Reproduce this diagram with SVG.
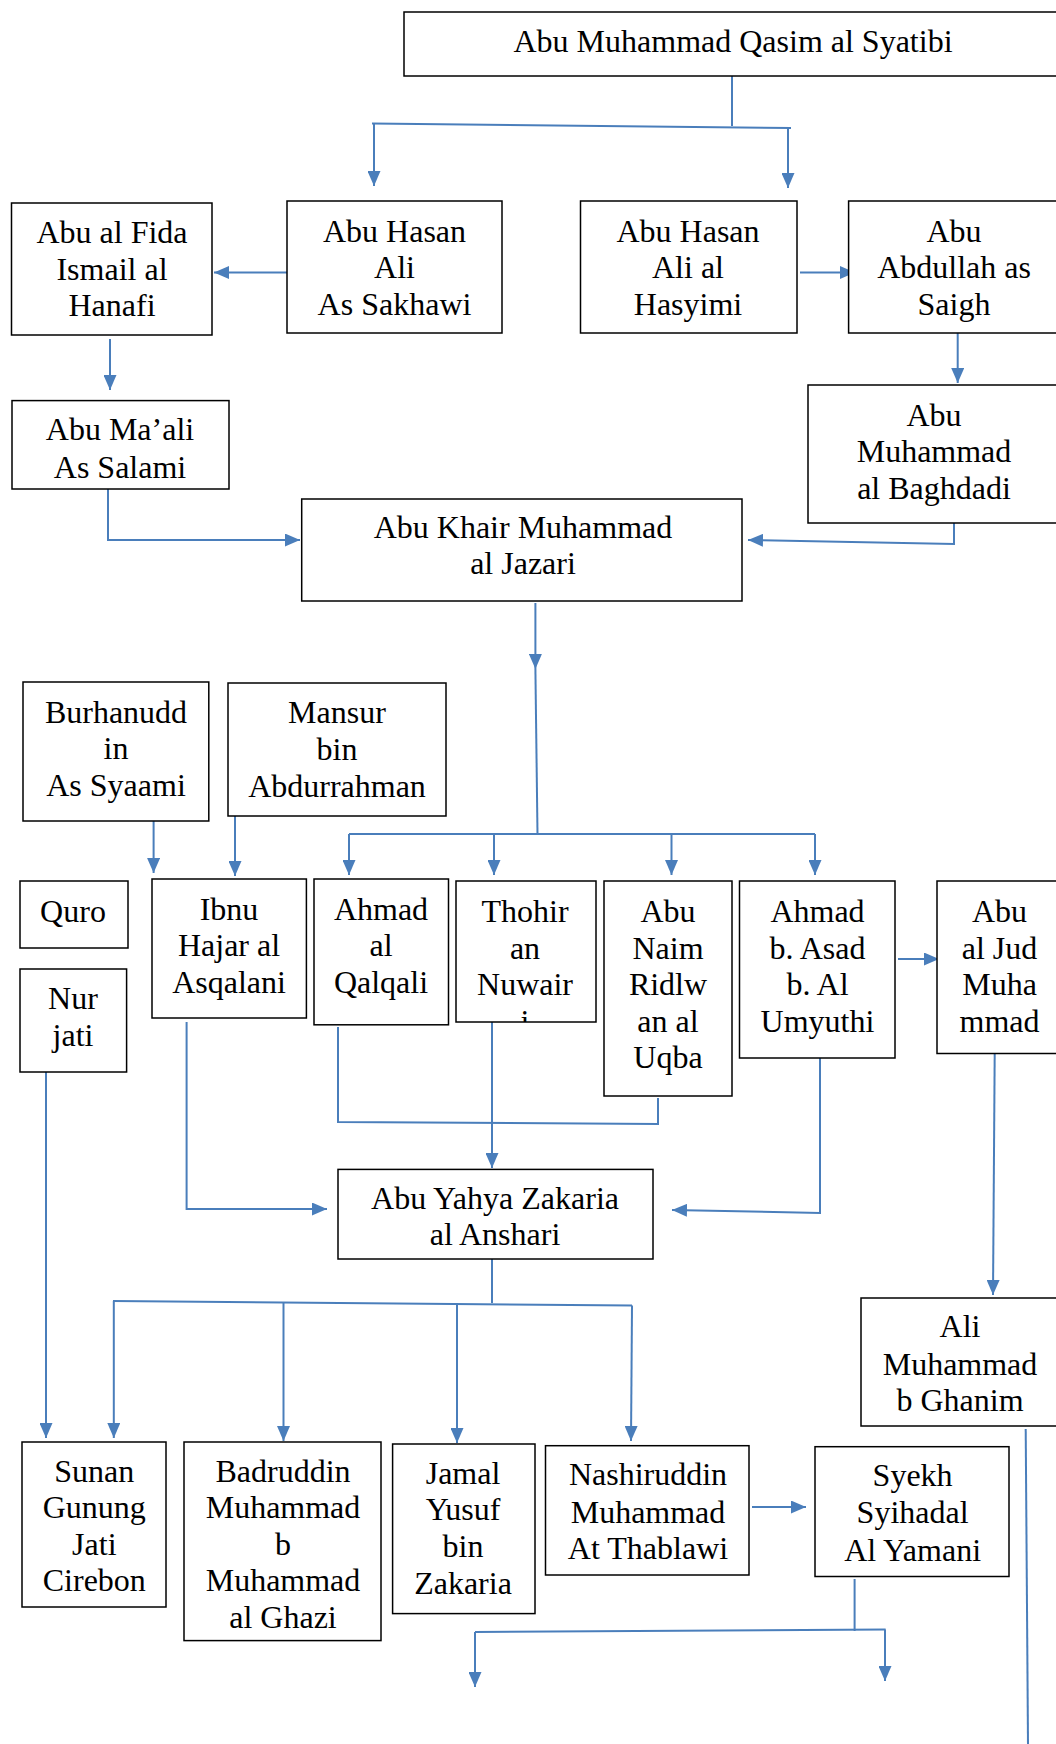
<svg xmlns="http://www.w3.org/2000/svg" width="1056" height="1744" viewBox="0 0 1056 1744">
<style>
.box{fill:#fff;stroke:#000;stroke-width:1.5}
.t{font-family:"Liberation Serif","Times New Roman",serif;font-size:32px;fill:#000;text-anchor:middle}
.c{fill:none;stroke:#4A7EBB;stroke-width:2}
.a{marker-end:url(#arr)}
</style>
<defs>
<marker id="arr" markerUnits="userSpaceOnUse" markerWidth="15" markerHeight="13" refX="15" refY="6.5" orient="auto">
<path d="M0,0 L15,6.5 L0,13 z" fill="#4A7EBB"/>
</marker>
<clipPath id="clipThohir"><rect x="456" y="881" width="140" height="141"/></clipPath>
</defs>
<rect width="1056" height="1744" fill="#fff"/>

<g id="connectors">
<path class="c" d="M732,76 V126"/>
<path class="c" d="M372,123.6 L791,128"/>
<path class="c a" d="M374,124 V186"/>
<path class="c a" d="M788,128 V188"/>
<path class="c a" d="M287,272.5 H214"/>
<path class="c a" d="M800,272.5 H855"/>
<path class="c a" d="M110,339 V390"/>
<path class="c a" d="M957.7,332 V383"/>
<path class="c a" d="M108,489 V540 H300"/>
<path class="c a" d="M954,523 V544 L748,540"/>
<path class="c a" d="M535.4,603 V669"/>
<path class="c" d="M535.4,669 L537.5,834"/>
<path class="c" d="M349,834 H815"/>
<path class="c a" d="M349,834 V875"/>
<path class="c a" d="M494,834 V875"/>
<path class="c a" d="M671.5,834 V875"/>
<path class="c a" d="M815,834 V875"/>
<path class="c a" d="M153.6,821 V873"/>
<path class="c a" d="M235,816 V876"/>
<path class="c a" d="M898,959 H939"/>
<path class="c" d="M338,1027 V1122 L658,1124 V1098"/>
<path class="c a" d="M492,1022 V1168"/>
<path class="c a" d="M186.6,1022 V1209 H327"/>
<path class="c a" d="M820,1058 V1213 L672,1210"/>
<path class="c a" d="M994.7,1053 L993,1295"/>
<path class="c a" d="M46,1072 V1438"/>
<path class="c" d="M492,1259 V1303"/>
<path class="c" d="M113,1301 L632,1305.5"/>
<path class="c a" d="M113.8,1301 V1438"/>
<path class="c a" d="M283.5,1302 V1441"/>
<path class="c a" d="M457,1303 V1443"/>
<path class="c a" d="M632,1305.5 L631,1441"/>
<path class="c a" d="M752,1507 H806"/>
<path class="c" d="M1025.7,1429 L1028,1744"/>
<path class="c" d="M854.6,1579 V1631"/>
<path class="c" d="M475,1632 L885.6,1629.5"/>
<path class="c a" d="M475,1632 V1687"/>
<path class="c a" d="M885,1629.5 V1681"/>
</g>

<g id="n-syatibi"><rect class="box" x="404" y="12" width="660" height="64"/><text class="t" x="733" y="52">Abu Muhammad Qasim al Syatibi</text></g>

<g id="n-fida"><rect class="box" x="11.5" y="203" width="200.5" height="132"/>
<text class="t" x="112" y="243">Abu al Fida</text><text class="t" x="112" y="279.5">Ismail al</text><text class="t" x="112" y="316">Hanafi</text></g>

<g id="n-sakhawi"><rect class="box" x="287" y="201" width="215" height="132"/>
<text class="t" x="394.5" y="241.5">Abu Hasan</text><text class="t" x="394.5" y="278">Ali</text><text class="t" x="394.5" y="314.5">As Sakhawi</text></g>

<g id="n-hasyimi"><rect class="box" x="580.5" y="201" width="216.5" height="132"/>
<text class="t" x="688" y="241.5">Abu Hasan</text><text class="t" x="688" y="278">Ali al</text><text class="t" x="688" y="314.5">Hasyimi</text></g>

<g id="n-saigh"><rect class="box" x="848.6" y="201" width="212" height="132"/>
<text class="t" x="954" y="241.5">Abu</text><text class="t" x="954" y="278">Abdullah as</text><text class="t" x="954" y="314.5">Saigh</text></g>

<g id="n-maali"><rect class="box" x="12" y="400.6" width="217" height="88.4"/>
<text class="t" x="120" y="440">Abu Ma’ali</text><text class="t" x="120" y="477.5">As Salami</text></g>

<g id="n-baghdadi"><rect class="box" x="808" y="385" width="254" height="138"/>
<text class="t" x="934" y="425.5">Abu</text><text class="t" x="934" y="462">Muhammad</text><text class="t" x="934" y="498.5">al Baghdadi</text></g>

<g id="n-jazari"><rect class="box" x="301.7" y="499" width="440.3" height="102"/>
<text class="t" x="523" y="537.5">Abu Khair Muhammad</text><text class="t" x="523" y="574">al Jazari</text></g>

<g id="n-burhanuddin"><rect class="box" x="23" y="682" width="185.8" height="139"/>
<text class="t" x="116" y="722.5">Burhanudd</text><text class="t" x="116" y="759">in</text><text class="t" x="116" y="796">As Syaami</text></g>

<g id="n-mansur"><rect class="box" x="228" y="683" width="218" height="133"/>
<text class="t" x="337" y="723">Mansur</text><text class="t" x="337" y="760">bin</text><text class="t" x="337" y="797">Abdurrahman</text></g>

<g id="n-quro"><rect class="box" x="20" y="881" width="108" height="67"/>
<text class="t" x="73" y="921.5">Quro</text></g>

<g id="n-nurjati"><rect class="box" x="20" y="969" width="106.6" height="103"/>
<text class="t" x="73" y="1008.7">Nur</text><text class="t" x="73" y="1045.8">jati</text></g>

<g id="n-ibnuhajar"><rect class="box" x="152" y="879" width="154.4" height="139"/>
<text class="t" x="229" y="919.5">Ibnu</text><text class="t" x="229" y="956">Hajar al</text><text class="t" x="229" y="993">Asqalani</text></g>

<g id="n-qalqali"><rect class="box" x="314" y="879" width="134.5" height="145.8"/>
<text class="t" x="381" y="919.5">Ahmad</text><text class="t" x="381" y="956">al</text><text class="t" x="381" y="993">Qalqali</text></g>

<g id="n-thohir"><rect class="box" x="456" y="881" width="140" height="141"/>
<g clip-path="url(#clipThohir)"><text class="t" x="525" y="921.5">Thohir</text><text class="t" x="525" y="958.5">an</text><text class="t" x="525" y="995">Nuwair</text><text class="t" x="525" y="1032">i</text></g></g>

<g id="n-naim"><rect class="box" x="604" y="881" width="128" height="215"/>
<text class="t" x="668" y="921.5">Abu</text><text class="t" x="668" y="958.5">Naim</text><text class="t" x="668" y="995">Ridlw</text><text class="t" x="668" y="1031.6">an al</text><text class="t" x="668" y="1068">Uqba</text></g>

<g id="n-umyuthi"><rect class="box" x="739.5" y="881" width="155.5" height="177"/>
<text class="t" x="817.5" y="921.5">Ahmad</text><text class="t" x="817.5" y="958.5">b. Asad</text><text class="t" x="817.5" y="995">b. Al</text><text class="t" x="817.5" y="1031.6">Umyuthi</text></g>

<g id="n-abujud"><rect class="box" x="937" y="881" width="125" height="172.5"/>
<text class="t" x="999.5" y="921.5">Abu</text><text class="t" x="999.5" y="958.5">al Jud</text><text class="t" x="999.5" y="995">Muha</text><text class="t" x="999.5" y="1031.6">mmad</text></g>

<g id="n-anshari"><rect class="box" x="338" y="1169.4" width="315" height="89.6"/>
<text class="t" x="495" y="1208.5">Abu Yahya Zakaria</text><text class="t" x="495" y="1245">al Anshari</text></g>

<g id="n-ghanim"><rect class="box" x="861" y="1298" width="201" height="128"/>
<text class="t" x="960" y="1337">Ali</text><text class="t" x="960" y="1374.5">Muhammad</text><text class="t" x="960" y="1411">b Ghanim</text></g>

<g id="n-sunan"><rect class="box" x="22" y="1442" width="144" height="165"/>
<text class="t" x="94.3" y="1481.7">Sunan</text><text class="t" x="94.3" y="1518">Gunung</text><text class="t" x="94.3" y="1554.6">Jati</text><text class="t" x="94.3" y="1591.4">Cirebon</text></g>

<g id="n-badruddin"><rect class="box" x="184" y="1442" width="197" height="198.6"/>
<text class="t" x="283" y="1481.7">Badruddin</text><text class="t" x="283" y="1518">Muhammad</text><text class="t" x="283" y="1554.6">b</text><text class="t" x="283" y="1591.4">Muhammad</text><text class="t" x="283" y="1627.8">al Ghazi</text></g>

<g id="n-jamal"><rect class="box" x="392.6" y="1444" width="142.4" height="169.6"/>
<text class="t" x="463" y="1483.8">Jamal</text><text class="t" x="463" y="1520">Yusuf</text><text class="t" x="463" y="1556.7">bin</text><text class="t" x="463" y="1593.8">Zakaria</text></g>

<g id="n-nashiruddin"><rect class="box" x="545.5" y="1445.7" width="203.5" height="129.3"/>
<text class="t" x="648" y="1485">Nashiruddin</text><text class="t" x="648" y="1522.7">Muhammad</text><text class="t" x="648" y="1559">At Thablawi</text></g>

<g id="n-syekh"><rect class="box" x="815" y="1446.7" width="194" height="129.8"/>
<text class="t" x="912.6" y="1486">Syekh</text><text class="t" x="912.6" y="1523.4">Syihadal</text><text class="t" x="912.6" y="1561">Al Yamani</text></g>
</svg>
